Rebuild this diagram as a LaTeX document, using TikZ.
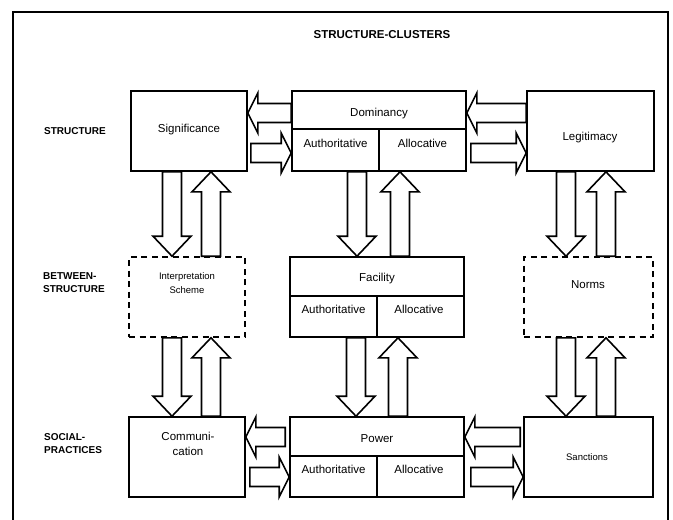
\documentclass[tikz,border=0pt]{standalone}
\usepackage{fontspec}
\setmainfont{Liberation Sans}
\usetikzlibrary{calc}
\newcommand\blockarr[5]{%
 \draw[barrow] let \p1=(#1), \p2=(#2), \n1={sign(\x2-\x1)}, \n2={sign(\y2-\y1)} in
 ({\x1-(\n2)*#3},{\y1+(\n1)*#3})
 -- ({\x2-(\n1)*#5-(\n2)*#3},{\y2-(\n2)*#5+(\n1)*#3})
 -- ({\x2-(\n1)*#5-(\n2)*#4},{\y2-(\n2)*#5+(\n1)*#4})
 -- (\p2)
 -- ({\x2-(\n1)*#5+(\n2)*#4},{\y2-(\n2)*#5-(\n1)*#4})
 -- ({\x2-(\n1)*#5+(\n2)*#3},{\y2-(\n2)*#5-(\n1)*#3})
 -- ({\x1+(\n2)*#3},{\y1-(\n1)*#3}) -- cycle;}
\newcommand\harr[2]{\blockarr{#1}{#2}{9.5pt}{20pt}{10pt}}
\newcommand\varr[2]{\blockarr{#1}{#2}{9.5pt}{19pt}{20pt}}
\begin{document}
\begin{tikzpicture}[x=1pt,y=-1pt,
  box/.style={draw, line width=1.6pt, inner sep=0pt},
  dbox/.style={box, dash pattern=on 6pt off 4.5pt},
  barrow/.style={draw, fill=white, line width=1.6pt, line join=miter},
  txt/.style={font=\fontsize{11.5}{15}\selectfont, inner sep=0pt, text height=8.3pt, text depth=0pt},
  mtxt/.style={font=\fontsize{11.5}{15}\selectfont, inner sep=0pt, align=center},
  stxt/.style={font=\fontsize{9.5}{13.5}\selectfont, inner sep=0pt, align=center},
  lbl/.style={font=\bfseries\fontsize{10}{13}\selectfont, inner sep=0pt, align=left, anchor=west},
  sepline/.style={line width=1.6pt}]
\useasboundingbox (0,0) rectangle (673,520);
\draw[line width=1.6pt] (13,12) rectangle (668,540);
% boxes
\node[box, minimum width=116pt, minimum height=80pt] (sig) at (189,131) {};
\node[box, minimum width=174pt, minimum height=80pt] (dom) at (379,131) {};
\node[box, minimum width=127pt, minimum height=80pt] (leg) at (590.5,131) {};
\node[dbox, minimum width=116pt, minimum height=80pt] (int) at (187,297) {};
\node[box, minimum width=174pt, minimum height=80pt] (fac) at (377,297) {};
\node[dbox, minimum width=129pt, minimum height=80pt] (nor) at (588.5,297) {};
\node[box, minimum width=116pt, minimum height=80pt] (com) at (187,457) {};
\node[box, minimum width=174pt, minimum height=80pt] (pow) at (377,457) {};
\node[box, minimum width=129pt, minimum height=80pt] (san) at (588.5,457) {};
% dividers
\draw[sepline] ($(dom.north west)+(0,39)$) coordinate (domL) -- ($(dom.north east)+(0,39)$);
\draw[sepline] (dom.south) -- (dom.south |- domL);
\draw[sepline] ($(fac.north west)+(0,40)$) coordinate (facL) -- ($(fac.north east)+(0,40)$);
\draw[sepline] (fac.south) -- (fac.south |- facL);
\draw[sepline] ($(pow.north west)+(0,40)$) coordinate (powL) -- ($(pow.north east)+(0,40)$);
\draw[sepline] (pow.south) -- (pow.south |- powL);
% helper coordinates
\coordinate (ya) at (0,113);
\coordinate (yb) at (0,153);
\coordinate (yc) at (0,437);
\coordinate (yd) at (0,477);
\coordinate (x1d) at (172,0);
\coordinate (x1u) at (211,0);
\coordinate (x2d) at (357,0);
\coordinate (x2u) at (400,0);
\coordinate (x3d) at (566,0);
\coordinate (x3u) at (606,0);
% horizontal arrows, top row
\coordinate (h1s) at (dom.west |- ya); \coordinate (h1e) at (sig.east |- ya);
\coordinate (h2s) at ($(sig.east |- yb)+(3,0)$); \coordinate (h2e) at (dom.west |- yb);
\coordinate (h3s) at (leg.west |- ya); \coordinate (h3e) at (dom.east |- ya);
\coordinate (h4s) at ($(dom.east |- yb)+(4,0)$); \coordinate (h4e) at (leg.west |- yb);
\harr{h1s}{h1e}
\harr{h2s}{h2e}
\harr{h3s}{h3e}
\harr{h4s}{h4e}
% horizontal arrows, bottom row
\coordinate (h5s) at ($(pow.west |- yc)+(-4,0)$); \coordinate (h5e) at (com.east |- yc);
\coordinate (h6s) at ($(com.east |- yd)+(4,0)$); \coordinate (h6e) at (pow.west |- yd);
\coordinate (h7s) at ($(san.west |- yc)+(-3,0)$); \coordinate (h7e) at (pow.east |- yc);
\coordinate (h8s) at ($(pow.east |- yd)+(6,0)$); \coordinate (h8e) at (san.west |- yd);
\harr{h5s}{h5e}
\harr{h6s}{h6e}
\harr{h7s}{h7e}
\harr{h8s}{h8e}
% vertical arrows, upper
\coordinate (v1s) at (x1d |- sig.south); \coordinate (v1e) at (x1d |- int.north);
\coordinate (v2s) at (x1u |- int.north); \coordinate (v2e) at (x1u |- sig.south);
\coordinate (v3s) at (x2d |- dom.south); \coordinate (v3e) at (x2d |- fac.north);
\coordinate (v4s) at (x2u |- fac.north); \coordinate (v4e) at (x2u |- dom.south);
\coordinate (v5s) at (x3d |- leg.south); \coordinate (v5e) at (x3d |- nor.north);
\coordinate (v6s) at (x3u |- nor.north); \coordinate (v6e) at (x3u |- leg.south);
\varr{v1s}{v1e}
\varr{v2s}{v2e}
\varr{v3s}{v3e}
\varr{v4s}{v4e}
\varr{v5s}{v5e}
\varr{v6s}{v6e}
% vertical arrows, lower
\coordinate (w1s) at (x1d |- int.south); \coordinate (w1e) at (x1d |- com.north);
\coordinate (w2s) at (x1u |- com.north); \coordinate (w2e) at (x1u |- int.south);
\coordinate (w3s) at ($(x2d |- fac.south)+(-1,0)$); \coordinate (w3e) at ($(x2d |- pow.north)+(-1,0)$);
\coordinate (w4s) at ($(x2u |- pow.north)+(-2,0)$); \coordinate (w4e) at ($(x2u |- fac.south)+(-2,0)$);
\coordinate (w5s) at (x3d |- nor.south); \coordinate (w5e) at (x3d |- san.north);
\coordinate (w6s) at (x3u |- san.north); \coordinate (w6e) at (x3u |- nor.south);
\varr{w1s}{w1e}
\varr{w2s}{w2e}
\varr{w3s}{w3e}
\varr{w4s}{w4e}
\varr{w5s}{w5e}
\varr{w6s}{w6e}
% texts
\node[font=\bfseries\fontsize{11.5}{13}\selectfont, inner sep=0pt] (title) at (382,35) {STRUCTURE-CLUSTERS};
\node[lbl] (lst) at (44,131) {STRUCTURE};
\node[lbl] (lbs) at (43,283) {BETWEEN-\\STRUCTURE};
\node[lbl] (lsp) at (44,444) {SOCIAL-\\PRACTICES};
\node[txt] (tsig) at (189,128) {Significance};
\node[txt] (tdom) at (379,112) {Dominancy};
\node[txt] (tdoma) at (335.5,143) {Authoritative};
\node[txt] (tdomb) at (422.5,143) {Allocative};
\node[txt] (tleg) at (590,136) {Legitimacy};
\node[stxt] (tint) at (187,283) {Interpretation\\Scheme};
\node[txt] (tfac) at (377,277) {Facility};
\node[txt] (tfaca) at (333.5,309) {Authoritative};
\node[txt] (tfacb) at (419,309) {Allocative};
\node[txt] (tnor) at (588,284) {Norms};
\node[mtxt] (tcom) at (188,443.5) {Communi-\\cation};
\node[txt] (tpow) at (377,438) {Power};
\node[txt] (tpowa) at (333.5,469) {Authoritative};
\node[txt] (tpowb) at (419,469) {Allocative};
\node[stxt] (tsan) at (587,457) {Sanctions};
\end{tikzpicture}
\end{document}
